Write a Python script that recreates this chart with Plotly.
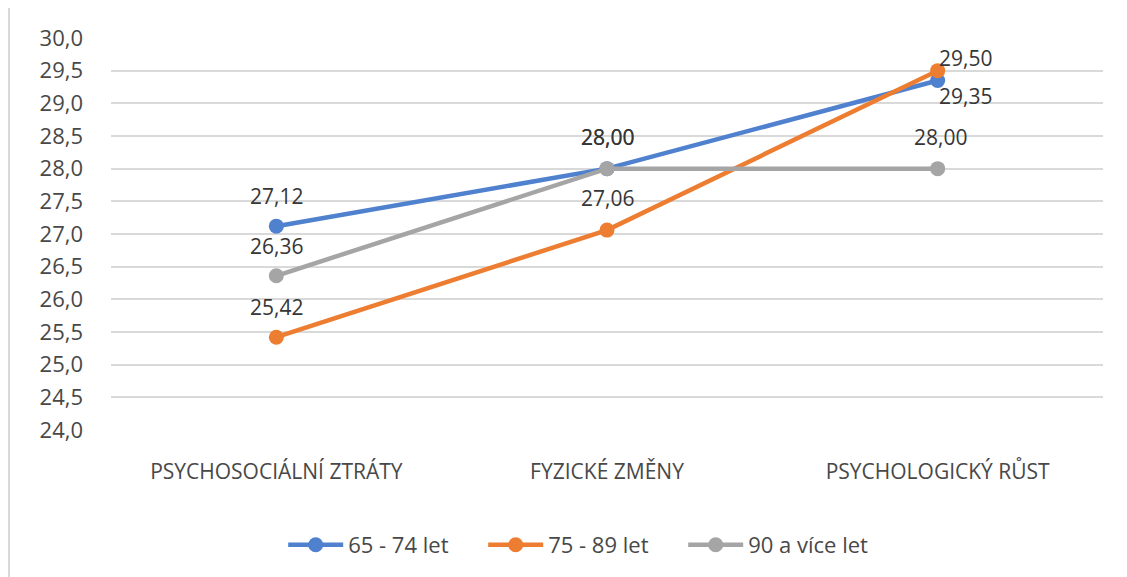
import plotly.graph_objects as go

categories = ["PSYCHOSOCIÁLNÍ ZTRÁTY", "FYZICKÉ ZMĚNY", "PSYCHOLOGICKÝ RŮST"]
series_names = ["65 - 74 let", "75 - 89 let", "90 a více let"]
values_65_74 = [27.12, 28.00, 29.35]
values_75_89 = [25.42, 27.06, 29.50]
values_90 = [26.36, 28.00, 28.00]
y_ticks = [24.0, 24.5, 25.0, 25.5, 26.0, 26.5, 27.0, 27.5, 28.0, 28.5, 29.0, 29.5, 30.0]

COLORS = ["#4F81CF", "#ED7D31", "#A5A5A5"]
FONT = "Open Sans, sans-serif"

# label offsets (px) per series/point, matching Excel placement
label_shift = [
    [(0, 30), (0, 32), (28, -16)],
    [(0, 30), (0, 32), (28, 13)],
    [(0, 30), (0, 32), (3, 32)],
]

fig = go.Figure()
all_series = [values_65_74, values_75_89, values_90]
for name, vals, color in zip(series_names, all_series, COLORS):
    fig.add_trace(go.Scatter(
        x=categories, y=vals, name=name,
        mode="lines+markers",
        line=dict(color=color, width=4.5),
        marker=dict(color=color, size=15),
    ))

for vals, shifts in zip(all_series, label_shift):
    for cat, v, (dx, dy) in zip(categories, vals, shifts):
        fig.add_annotation(
            x=cat, y=v, text=f"{v:.2f}".replace(".", ","),
            showarrow=False, xshift=dx, yshift=dy,
            font=dict(family=FONT, size=21, color="#363636"),
        )

# outer chart border
fig.add_shape(type="rect", xref="paper", yref="paper",
              x0=-0.1028, x1=1.03, y0=-0.40, y1=1.0814,
              line=dict(color="#D9D9D9", width=2), layer="below")

fig.update_layout(
    width=1119, height=569,
    paper_bgcolor="white", plot_bgcolor="white",
    margin=dict(l=103, r=24, t=30, b=146),
    font=dict(family=FONT, color="#595959"),
    xaxis=dict(
        type="category", range=[-0.5, 2.5],
        showgrid=False, zeroline=False, showline=False,
        tickfont=dict(size=21, color="#484848"),
        ticks="", ticklabelstandoff=27,
    ),
    yaxis=dict(
        range=[24.0, 30.0], tickvals=y_ticks,
        ticktext=[f"{t:.1f}".replace(".", ",") for t in y_ticks],
        showgrid=True, gridcolor="#D9D9D9", gridwidth=1.5,
        zeroline=False, showline=False,
        tickfont=dict(size=22, color="#484848"),
        ticklabelstandoff=27,
    ),
    showlegend=True,
    legend=dict(
        orientation="h", x=0.476, xanchor="center", y=-0.29, yanchor="middle",
        font=dict(family=FONT, size=22, color="#484848"),
        itemwidth=55, entrywidth=130, entrywidthmode="pixels",
    ),
)

fig.write_html("out.html")
